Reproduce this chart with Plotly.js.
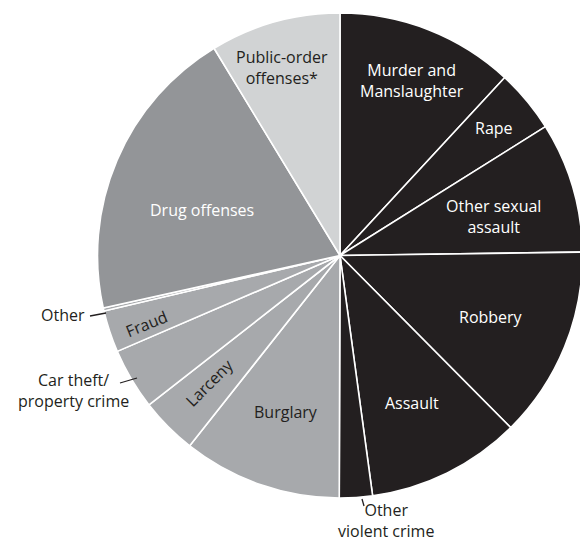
<!DOCTYPE html>
<html>
<head>
<meta charset="utf-8">
<script src="https://cdn.plot.ly/plotly-3.0.1.min.js"></script>
<style>
html,body{margin:0;padding:0;overflow:hidden;background:#fff;}
#chart{width:600px;height:545px;}
</style>
</head>
<body>
<div id="chart"></div>
<script>
// Offense categories, clockwise from 12 o'clock
const categories = [
  "Murder and Manslaughter", "Rape", "Other sexual assault", "Robbery", "Assault",
  "Other violent crime", "Burglary", "Larceny", "Car theft/property crime", "Fraud",
  "Other", "Drug offenses", "Public-order offenses*"
];
// Share of prisoners (percent)
const shares = [11.9, 4.2, 8.7, 12.8, 10.3, 2.2, 10.6, 3.8, 4.1, 2.8, 0.2, 19.8, 8.7];
// Offense group of each slice
const groups = ["violent","violent","violent","violent","violent","violent",
  "property","property","property","property","property","drug","public"];

const groupColors = {violent:"#231f20", property:"#a7a9ac", drug:"#939598", public:"#d1d3d4"};

const W = 600, H = 545;
const px = (x) => x / W;
const py = (y) => 1 - y / H;

const trace = {
  type: "pie",
  labels: categories,
  values: shares,
  sort: false,
  direction: "clockwise",
  rotation: 0,
  textinfo: "none",
  hoverinfo: "label+value",
  marker: {colors: groups.map(g => groupColors[g]), line: {color: "#ffffff", width: 1.6}},
  domain: {x: [px(97), px(583)], y: [py(498), py(13)]},
  showlegend: false
};

const FONT = "Open Sans, sans-serif";
const FS = 16;
// label texts (as drawn on the chart) and placements
const labelTexts = ["Murder and<br>Manslaughter", "Rape", "Other sexual<br>assault", "Robbery",
  "Assault", "Other<br>violent crime", "Burglary", "Larceny", "Car theft/<br>property crime",
  "Fraud", "Other", "Drug offenses", "Public-order<br>offenses*"];
const labelPos = [[412,81],[494,128],[493,217],[491,317],
  [412,403],[386,520],[286,412],[209,383],[73,390],
  [146,324],[63,315],[202,210],[282,67]];
const labelColors = ["#fff","#fff","#fff","#fff",
  "#fff","#231f20","#231f20","#231f20","#231f20",
  "#231f20","#231f20","#fff","#231f20"];
const labelAngles = [0,0,0,0,0,0,0,-45,0,-22,0,0,0];

const annotations = labelTexts.map((t, i) => ({
  text: t, xref: "paper", yref: "paper",
  x: px(labelPos[i][0]), y: py(labelPos[i][1]),
  xanchor: "center", yanchor: "middle", showarrow: false,
  textangle: labelAngles[i], borderpad: 0,
  font: {family: FONT, size: FS, color: labelColors[i]}
}));

// leader lines
const leaders = [[[90,316],[106,313]], [[120,383],[137,378]], [[362,499],[364,506]]];
const shapes = leaders.map(l => ({
  type: "line", xref: "paper", yref: "paper",
  x0: px(l[0][0]), y0: py(l[0][1]), x1: px(l[1][0]), y1: py(l[1][1]),
  line: {color: "#231f20", width: 1.3}
}));

const layout = {
  width: W, height: H,
  margin: {l: 0, r: 0, t: 0, b: 0},
  paper_bgcolor: "#fff",
  annotations: annotations,
  shapes: shapes,
  font: {family: FONT}
};

Plotly.newPlot("chart", [trace], layout, {displayModeBar: false, staticPlot: true});
</script>
</body>
</html>
